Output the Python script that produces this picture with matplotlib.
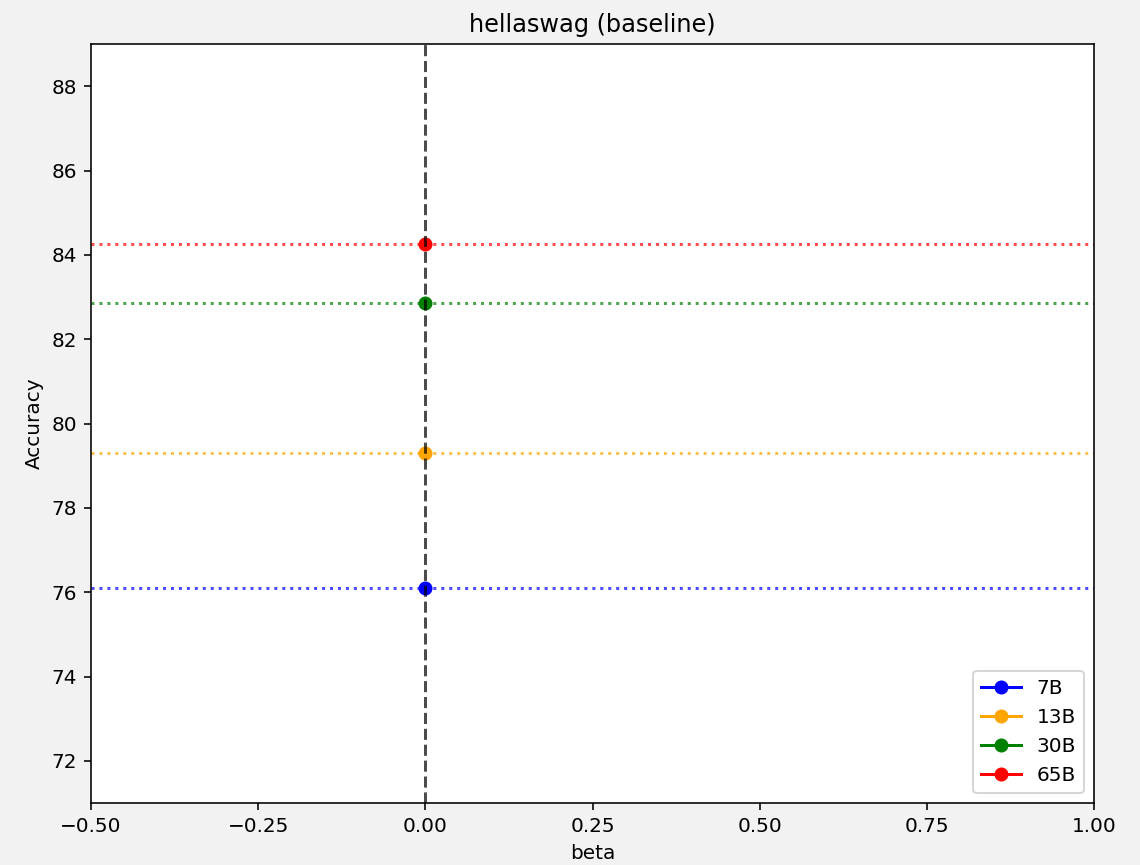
import numpy as np
import matplotlib.pyplot as plt

models = ["7B", "13B", "30B", "65B"]
colors = ["blue", "orange", "green", "red"]
acc = [76.1, 79.3, 82.85, 84.25]
beta = [0.0, 0.0, 0.0, 0.0]

fig = plt.figure(figsize=(1140 / 144, 865 / 144), dpi=144, facecolor="#f2f2f2")
ax = fig.add_axes([0.0798, 0.0717, 0.88, 0.8773])

for m, c, a, b in zip(models, colors, acc, beta):
    ax.axhline(a, color=c, linestyle=":", alpha=0.7)
    ax.plot([b], [a], marker="o", color=c, label=m)

ax.axvline(0, color="black", linestyle="--", alpha=0.7)

ax.set_xlim(-0.5, 1.0)
ax.set_ylim(71, 89)
ax.set_xticks(np.arange(-0.5, 1.01, 0.25))
ax.set_title("hellaswag (baseline)")
ax.set_xlabel("beta")
ax.set_ylabel("Accuracy")
ax.legend(loc="lower right")

fig.savefig("out.png", dpi=144, facecolor=fig.get_facecolor())
